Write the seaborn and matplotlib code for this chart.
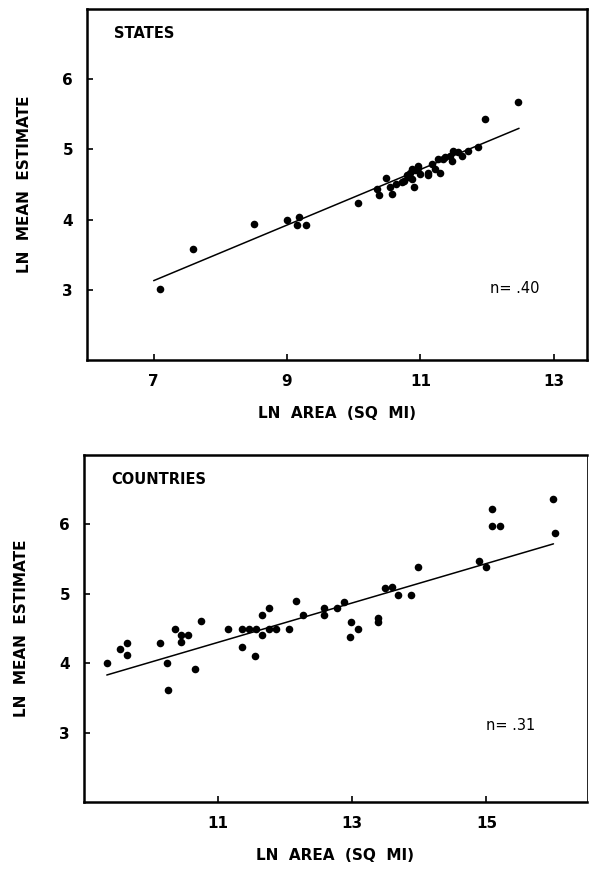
import matplotlib
matplotlib.use("Agg")
import matplotlib.pyplot as plt
import seaborn as sns
import pandas as pd

# States: ln area vs ln mean estimate
states_x = [7.09, 7.59, 8.50, 9.00, 9.15, 9.18, 9.28, 10.07, 10.35, 10.38,
            10.48, 10.54, 10.58, 10.63, 10.73, 10.75, 10.80, 10.82, 10.85, 10.88,
            10.88, 10.91, 10.92, 10.97, 10.97, 11.00, 11.12, 11.12, 11.17, 11.22,
            11.27, 11.29, 11.34, 11.37, 11.44, 11.47, 11.49, 11.57, 11.62, 11.71,
            11.86, 11.97, 12.47]
states_y = [3.01, 3.58, 3.94, 3.99, 3.92, 4.03, 3.92, 4.23, 4.43, 4.35,
            4.59, 4.46, 4.37, 4.51, 4.53, 4.55, 4.63, 4.60, 4.67, 4.58,
            4.72, 4.46, 4.70, 4.77, 4.74, 4.65, 4.67, 4.63, 4.79, 4.72,
            4.86, 4.67, 4.86, 4.89, 4.91, 4.84, 4.98, 4.96, 4.91, 4.98,
            5.03, 5.43, 5.67]
states_fit_x = [7.0, 12.48]
states_fit_y = [3.13, 5.30]

# Countries
countries_x = [9.34, 9.53, 9.64, 9.64, 10.14, 10.24, 10.25, 10.35, 10.45, 10.45,
               10.55, 10.65, 10.75, 11.15, 11.35, 11.36, 11.46, 11.56, 11.55, 11.66,
               11.66, 11.76, 11.76, 11.86, 12.06, 12.16, 12.27, 12.58, 12.58, 12.77,
               12.88, 12.98, 12.97, 13.08, 13.38, 13.38, 13.49, 13.59, 13.68, 13.87,
               13.98, 14.89, 14.99, 15.09, 15.09, 15.20, 16.00, 16.03]
countries_y = [4.01, 4.21, 4.29, 4.12, 4.29, 4.00, 3.62, 4.50, 4.41, 4.30,
               4.41, 3.92, 4.61, 4.50, 4.50, 4.24, 4.50, 4.50, 4.10, 4.69,
               4.40, 4.80, 4.50, 4.50, 4.50, 4.89, 4.70, 4.80, 4.70, 4.80,
               4.88, 4.59, 4.38, 4.49, 4.65, 4.59, 5.09, 5.10, 4.99, 4.99,
               5.38, 5.48, 5.38, 6.22, 5.98, 5.98, 6.36, 5.88]
countries_fit_x = [9.34, 16.0]
countries_fit_y = [3.83, 5.72]

sns.set_style("ticks")
plt.rcParams["font.family"] = ["DejaVu Sans"]
plt.rcParams["font.weight"] = "bold"
for k in ["text.color", "axes.edgecolor", "axes.labelcolor",
          "xtick.color", "ytick.color"]:
    plt.rcParams[k] = "black"

fig = plt.figure(figsize=(5.89, 8.71), dpi=100)
ax1 = fig.add_axes([0.1477, 0.5867, 0.849, 0.403])
ax2 = fig.add_axes([0.1426, 0.0792, 0.854, 0.3984])


def panel(ax, x, y, fx, fy, xlim, xticks, name, n_text, n_pos):
    sns.scatterplot(x=x, y=y, ax=ax, color="black", s=30, edgecolor="black",
                    linewidth=0, zorder=3)
    sns.lineplot(x=fx, y=fy, ax=ax, color="black", linewidth=1.1)
    ax.set_xlim(*xlim)
    ax.set_ylim(2, 7)
    ax.set_xticks(xticks)
    ax.set_yticks([3, 4, 5, 6])
    ax.tick_params(direction="in", length=4, width=1.2, labelsize=11, pad=10)
    for s in ax.spines.values():
        s.set_linewidth(1.8)
        s.set_visible(True)
    ax.set_xlabel("LN  AREA  (SQ  MI)", fontsize=11, fontweight="bold", labelpad=12)
    ax.set_ylabel("LN  MEAN  ESTIMATE", fontsize=11, fontweight="bold", labelpad=22)
    ax.text(0.055, 0.93, name, transform=ax.transAxes, fontsize=10.5,
            fontweight="bold", va="center")
    ax.text(n_pos[0], n_pos[1], n_text, transform=ax.transAxes, fontsize=10.5,
            fontweight="normal", va="center")


panel(ax1, states_x, states_y, states_fit_x, states_fit_y, (6, 13.5),
      [7, 9, 11, 13], "STATES", "n= .40", (0.805, 0.205))
panel(ax2, countries_x, countries_y, countries_fit_x, countries_fit_y, (9, 16.5),
      [11, 13, 15], "COUNTRIES", "n= .31", (0.8, 0.22))
ax2.spines["right"].set_linewidth(0.6)

fig.savefig("out.png", dpi=100)
